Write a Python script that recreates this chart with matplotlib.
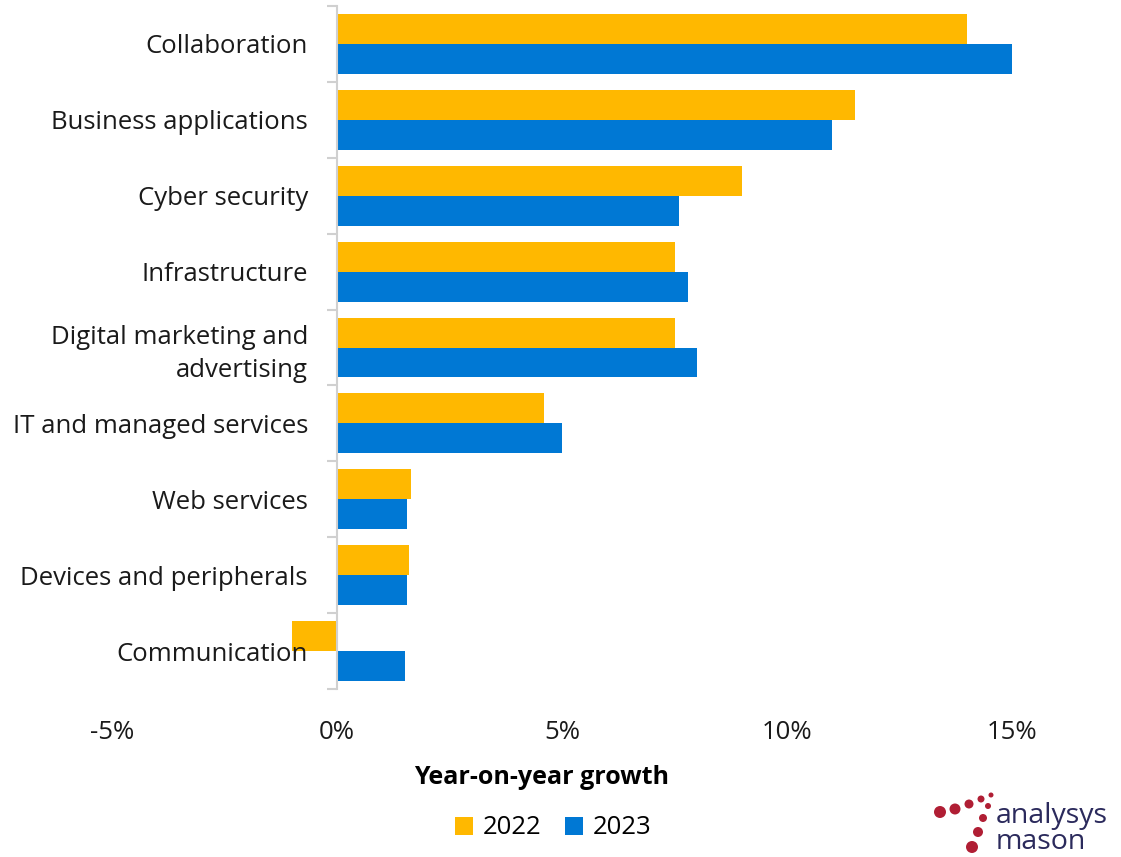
import matplotlib.pyplot as plt
import numpy as np

plt.rcParams['font.family'] = ['Open Sans', 'DejaVu Sans']

categories = ['Collaboration', 'Business applications', 'Cyber security',
              'Infrastructure', 'Digital marketing and\nadvertising',
              'IT and managed services', 'Web services',
              'Devices and peripherals', 'Communication']
growth_2022 = [14.0, 11.5, 9.0, 7.5, 7.5, 4.6, 1.65, 1.6, -1.0]
growth_2023 = [15.0, 11.0, 7.6, 7.8, 8.0, 5.0, 1.55, 1.55, 1.5]
x_ticks = [-5, 0, 5, 10, 15]
x_tick_labels = ['-5%', '0%', '5%', '10%', '15%']

yellow = '#FFB800'
blue = '#0078D4'
fs = 18.5

fig = plt.figure(figsize=(11.21, 8.57), dpi=100)
ax = fig.add_axes([112 / 1121, 1 - 689 / 857, (1035 - 112) / 1121, 683 / 857])

y = np.arange(len(categories))
h = 0.395
ax.barh(y - h / 2, growth_2022, height=h, color=yellow, label='2022', zorder=1)
ax.barh(y + h / 2, growth_2023, height=h, color=blue, label='2023', zorder=1)

ax.set_xlim(-5, 15.5)
ax.set_ylim(len(categories) - 0.5, -0.5)

for s in ['top', 'right', 'bottom']:
    ax.spines[s].set_visible(False)
ax.spines['left'].set_position(('data', 0))
ax.spines['left'].set_color('#d0d0d0')
ax.spines['left'].set_linewidth(1.5)

# category labels at centres, tick marks at the boundaries
ax.set_yticks(y)
ax.set_yticklabels(categories, fontsize=fs, color='#1a1a1a', linespacing=1.4)
ax.tick_params(axis='y', which='major', length=0, pad=21)
for lab in ax.get_yticklabels():
    lab.set_zorder(5)
ax.set_yticks(np.arange(-0.5, len(categories), 1), minor=True)
ax.tick_params(axis='y', which='minor', length=7, width=1.5, color='#d0d0d0')

ax.set_xticks(x_ticks)
ax.set_xticklabels(x_tick_labels, fontsize=fs, color='#1a1a1a')
ax.tick_params(axis='x', length=0, pad=22)
ax.set_xlabel('Year-on-year growth', fontsize=18, fontweight='bold')
ax.xaxis.set_label_coords((542 - 112) / (1035 - 112), -(778 - 689) / 683)
ax.xaxis.label.set_va('center')

fig.legend(loc='center', bbox_to_anchor=(553 / 1121, 1 - 828 / 857), ncol=2,
           frameon=False, fontsize=fs, handlelength=0.7, handleheight=0.7,
           columnspacing=0.9, handletextpad=0.4)

# logo
red = '#B01E34'
logo = fig.add_axes([920 / 1121, 0, 200 / 1121, 77 / 857])
logo.set_xlim(0, 200)
logo.set_ylim(77, 0)
logo.axis('off')
dots_x = [20, 35, 49, 61, 71, 68, 63, 58, 52]
dots_y = [32, 29, 24, 19, 15, 26, 38, 52, 67]
dots_r = [6, 5.5, 4.5, 3.5, 2.5, 3, 4, 5, 6]
logo.scatter(dots_x, dots_y, s=[(1.44 * r) ** 2 for r in dots_r], color=red, lw=0)
logo.text(76, 49, 'analysys\nmason', fontsize=20.5, color='#2b2a5c', va='center',
          linespacing=0.95)

fig.savefig('out.png', dpi=100)
